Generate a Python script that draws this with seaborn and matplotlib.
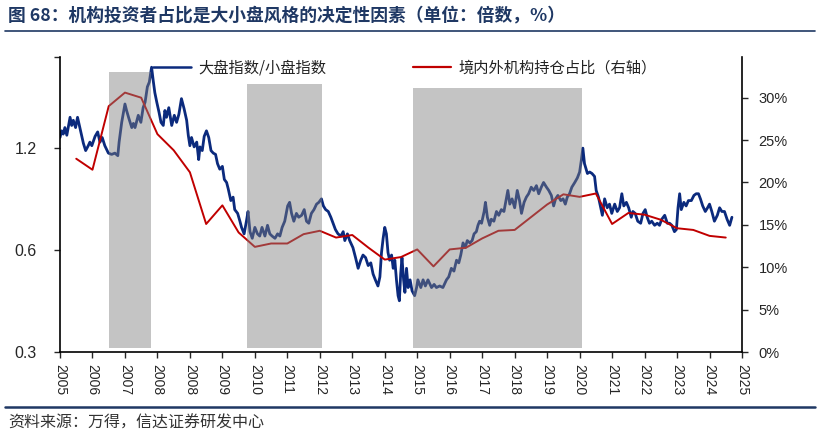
import matplotlib
matplotlib.use("Agg")
import matplotlib.pyplot as plt
import matplotlib.ticker as mticker
from matplotlib.lines import Line2D
from matplotlib.patches import Rectangle
import seaborn as sns
import pandas as pd

# ---------------- data ----------------
title = "图 68：机构投资者占比是大小盘风格的决定性因素（单位：倍数，%）"
source = "资料来源：万得，信达证券研发中心"
label_blue = "大盘指数/小盘指数"
label_red = "境内外机构持仓占比（右轴）"

x_tick_labels = ["2005", "2006", "2007", "2008", "2008", "2009", "2010", "2011",
                 "2012", "2013", "2014", "2015", "2016", "2017", "2018", "2019",
                 "2020", "2021", "2022", "2023", "2024", "2025"]

blue_x = [0.00, 0.05, 0.10, 0.15, 0.21, 0.31, 0.36, 0.41, 0.48, 0.54, 0.62, 0.72, 0.79, 0.87,
          0.92, 0.98, 1.08, 1.16, 1.23, 1.30, 1.38, 1.49, 1.59, 1.69, 1.78, 1.82, 1.90, 2.00,
          2.05, 2.12, 2.21, 2.26, 2.31, 2.41, 2.49, 2.56, 2.62, 2.69, 2.75, 2.82, 2.87, 2.92,
          2.98, 3.05, 3.11, 3.18, 3.23, 3.28, 3.35, 3.44, 3.52, 3.59, 3.66, 3.74, 3.82, 3.90,
          3.95, 4.00, 4.05, 4.13, 4.21, 4.27, 4.31, 4.38, 4.44, 4.51, 4.58, 4.65, 4.72, 4.79,
          4.85, 4.92, 5.00, 5.06, 5.13, 5.18, 5.26, 5.33, 5.38, 5.47, 5.54, 5.59, 5.67, 5.74,
          5.79, 5.85, 5.92, 6.00, 6.08, 6.15, 6.22, 6.31, 6.39, 6.46, 6.53, 6.62, 6.70, 6.77,
          6.84, 6.92, 7.01, 7.07, 7.13, 7.20, 7.28, 7.35, 7.44, 7.52, 7.59, 7.66, 7.74, 7.82,
          7.90, 7.97, 8.05, 8.11, 8.18, 8.26, 8.34, 8.41, 8.48, 8.56, 8.65, 8.72, 8.77, 8.85,
          8.92, 9.02, 9.10, 9.18, 9.26, 9.33, 9.41, 9.49, 9.57, 9.64, 9.71, 9.79, 9.85, 9.90,
          9.95, 10.00, 10.05, 10.10, 10.15, 10.21, 10.26, 10.31, 10.36, 10.41, 10.45, 10.49,
          10.53, 10.58, 10.62, 10.67, 10.72, 10.78, 10.84, 10.92, 10.98, 11.02, 11.11, 11.18,
          11.25, 11.33, 11.44, 11.52, 11.59, 11.69, 11.79, 11.90, 11.97, 12.05, 12.13, 12.21,
          12.28, 12.34, 12.41, 12.48, 12.54, 12.62, 12.69, 12.75, 12.82, 12.87, 12.92, 12.98,
          13.06, 13.10, 13.16, 13.23, 13.28, 13.36, 13.44, 13.51, 13.59, 13.67, 13.74, 13.79,
          13.85, 13.92, 14.00, 14.08, 14.15, 14.21, 14.29, 14.36, 14.43, 14.51, 14.59, 14.67,
          14.74, 14.82, 14.89, 14.98, 15.05, 15.13, 15.20, 15.26, 15.33, 15.42, 15.49, 15.56,
          15.62, 15.69, 15.76, 15.85, 15.93, 16.00, 16.05, 16.10, 16.15, 16.24, 16.31, 16.38,
          16.46, 16.51, 16.58, 16.65, 16.70, 16.77, 16.85, 16.92, 16.99, 17.08, 17.16, 17.23,
          17.30, 17.36, 17.44, 17.51, 17.59, 17.64, 17.71, 17.79, 17.88, 17.95, 18.02, 18.08,
          18.15, 18.22, 18.31, 18.39, 18.46, 18.53, 18.62, 18.70, 18.77, 18.84, 18.92, 18.98,
          19.03, 19.08, 19.13, 19.21, 19.28, 19.35, 19.44, 19.52, 19.59, 19.66, 19.72, 19.79,
          19.87, 19.94, 20.00, 20.07, 20.15, 20.24, 20.31, 20.38, 20.46, 20.54, 20.62, 20.69]

blue_y = [1.29, 1.35, 1.32, 1.38, 1.31, 1.48, 1.40, 1.45, 1.38, 1.48, 1.37, 1.24, 1.18, 1.22,
          1.25, 1.22, 1.30, 1.34, 1.25, 1.29, 1.22, 1.16, 1.15, 1.16, 1.14, 1.25, 1.43, 1.62,
          1.55, 1.47, 1.38, 1.42, 1.38, 1.50, 1.43, 1.58, 1.64, 1.82, 1.88, 2.08, 1.90, 1.75,
          1.64, 1.53, 1.43, 1.40, 1.55, 1.48, 1.58, 1.40, 1.50, 1.43, 1.51, 1.68, 1.57, 1.45,
          1.31, 1.22, 1.29, 1.21, 1.25, 1.11, 1.21, 1.18, 1.30, 1.35, 1.29, 1.18, 1.16, 1.15,
          1.08, 1.04, 1.06, 0.97, 0.95, 0.91, 0.84, 0.86, 0.79, 0.77, 0.73, 0.70, 0.67, 0.73,
          0.78, 0.68, 0.65, 0.70, 0.67, 0.66, 0.70, 0.66, 0.71, 0.67, 0.66, 0.65, 0.67, 0.66,
          0.70, 0.73, 0.81, 0.83, 0.77, 0.73, 0.77, 0.75, 0.76, 0.79, 0.73, 0.72, 0.77, 0.79,
          0.82, 0.83, 0.85, 0.81, 0.79, 0.78, 0.75, 0.72, 0.69, 0.67, 0.66, 0.68, 0.64, 0.67,
          0.64, 0.61, 0.57, 0.53, 0.56, 0.58, 0.57, 0.54, 0.55, 0.51, 0.49, 0.47, 0.50, 0.59,
          0.65, 0.70, 0.67, 0.59, 0.56, 0.58, 0.53, 0.56, 0.49, 0.44, 0.425, 0.51,
          0.57, 0.49, 0.45, 0.53, 0.465, 0.49, 0.455, 0.44, 0.465, 0.49, 0.465, 0.49,
          0.47, 0.49, 0.465, 0.475, 0.465, 0.47, 0.465, 0.49, 0.50, 0.53, 0.52, 0.56,
          0.55, 0.58, 0.63, 0.61, 0.64, 0.63, 0.64, 0.67, 0.68, 0.71, 0.73, 0.72,
          0.78, 0.83, 0.75, 0.71, 0.74, 0.73, 0.78, 0.76, 0.79, 0.78, 0.85, 0.90,
          0.82, 0.85, 0.80, 0.90, 0.84, 0.77, 0.83, 0.86, 0.88, 0.92, 0.90, 0.93,
          0.88, 0.92, 0.95, 0.92, 0.90, 0.87, 0.81, 0.85, 0.87, 0.84, 0.85, 0.82,
          0.86, 0.88, 0.92, 0.95, 0.98, 1.02, 1.10, 1.20, 1.08, 1.01, 1.02, 1.01,
          0.99, 0.90, 0.86, 0.80, 0.76, 0.85, 0.80, 0.82, 0.77, 0.82, 0.78, 0.80,
          0.88, 0.81, 0.83, 0.80, 0.75, 0.78, 0.77, 0.73, 0.72, 0.77, 0.79, 0.75,
          0.72, 0.73, 0.71, 0.72, 0.71, 0.74, 0.76, 0.72, 0.72, 0.71, 0.68, 0.69,
          0.80, 0.88, 0.79, 0.83, 0.81, 0.84, 0.84, 0.87, 0.88, 0.88, 0.85, 0.81,
          0.78, 0.80, 0.82, 0.78, 0.73, 0.76, 0.80, 0.78, 0.78, 0.74, 0.71, 0.75]

red_x = [0.5, 1.0, 1.5, 2.0, 2.5, 3.0, 3.5, 4.0, 4.5, 5.0, 5.5, 6.0, 6.5, 7.0, 7.5, 8.0,
         8.5, 9.0, 9.5, 10.0, 10.5, 11.0, 11.5, 12.0, 12.5, 13.0, 13.5, 14.0, 14.5, 15.0,
         15.5, 16.0, 16.5, 17.0, 17.5, 18.0, 18.5, 19.0, 19.5, 20.0, 20.5]
red_pct = [22.8, 21.5, 29.0, 30.6, 30.0, 25.7, 23.8, 21.2, 15.1, 17.3, 14.1, 12.4, 12.8,
           12.8, 13.9, 14.3, 13.5, 13.8, 12.3, 10.9, 11.2, 12.1, 10.1, 12.1, 12.3, 13.4,
           14.3, 14.4, 15.9, 17.4, 18.6, 18.3, 18.7, 15.1, 16.4, 16.2, 15.6, 14.6, 14.4,
           13.7, 13.5]

# shaded periods (start, end, top in % on right axis)
shade_start = [1.51, 5.75, 10.86]
shade_end = [2.80, 8.06, 16.06]
shade_top = [33.0, 31.6, 31.1]
shade_bottom = 0.5

# ---------------- style ----------------
sns.set_theme(style="white")
plt.rcParams["font.family"] = ["Liberation Sans", "Noto Sans CJK SC", "DejaVu Sans"]
CJK = ["Noto Sans CJK SC", "DejaVu Sans"]
BLUE = "#0b2a7d"
RED = "#c00000"
NAVY = "#1f3864"

W, H = 820, 437
fig = plt.figure(figsize=(W / 100, H / 100), dpi=100)
L, R, T, B = 60, 742, 57, 352
ax = fig.add_axes([L / W, 1 - B / H, (R - L) / W, (B - T) / H])
ax2 = ax.twinx()

df_blue = pd.DataFrame({"x": blue_x, "y": blue_y})
df_red = pd.DataFrame({"x": red_x, "y": [v / 100 for v in red_pct]})

sns.lineplot(data=df_blue, x="x", y="y", ax=ax, color=BLUE, lw=2.0, legend=False)
sns.lineplot(data=df_red, x="x", y="y", ax=ax2, color=RED, lw=1.4, legend=False)

ax.set_yscale("log", base=2)
ax.set_ylim(0.3, 2.23)
ax.set_xlim(0, 21)
ax2.set_ylim(0, 0.348)

for s, e, t in zip(shade_start, shade_end, shade_top):
    ax2.add_patch(Rectangle((s, shade_bottom / 100), e - s, (t - shade_bottom) / 100,
                            facecolor="#7f7f7f", alpha=0.46, edgecolor="none", zorder=5))

ax.set_xticks(range(len(x_tick_labels)))
ax.set_xticklabels(x_tick_labels, rotation=-90, fontsize=10)
ax.set_yticks([0.3, 0.6, 1.2, 2.23])
ax.set_yticklabels(["0.3", "0.6", "1.2", ""], fontsize=11.5)
ax.yaxis.set_minor_locator(mticker.NullLocator())
ax2.set_yticks([0, 0.05, 0.10, 0.15, 0.20, 0.25, 0.30])
ax2.yaxis.set_major_formatter(mticker.PercentFormatter(1.0, decimals=0))
ax2.tick_params(axis="y", labelsize=10.5, length=4, width=1, pad=8, direction="out", right=True)
ax.tick_params(axis="y", length=4, width=1, pad=13, direction="out", left=True)
ax.tick_params(axis="x", length=4, width=1, pad=5, direction="out", bottom=True)
ax.set_xlabel("")
ax.set_ylabel("")
ax2.set_ylabel("")

for a in (ax, ax2):
    a.spines["top"].set_visible(False)
    for sp in ("left", "right", "bottom"):
        a.spines[sp].set_color("black")
        a.spines[sp].set_linewidth(1.2)
    a.grid(False)
ax.spines["right"].set_visible(False)
ax2.spines["left"].set_visible(False)
ax2.spines["bottom"].set_visible(False)

# legends
h1 = Line2D([], [], color=BLUE, lw=1.8)
h2 = Line2D([], [], color=RED, lw=1.6)
leg_kw = dict(frameon=False, loc="center left", borderpad=0, borderaxespad=0,
              handlelength=2.5, handletextpad=0.45, prop={"family": CJK, "size": 11})
leg1 = fig.legend([h1], [label_blue], bbox_to_anchor=(153 / W, 1 - 68 / H), **leg_kw)
leg2 = fig.legend([h2], [label_red], bbox_to_anchor=(413 / W, 1 - 68 / H), **leg_kw)
for lg in (leg1, leg2):
    for t in lg.get_texts():
        t.set_color("#222222")

# title, rules, source
fig.text(8 / W, 1 - 15 / H, title, family=CJK, fontsize=12.8, fontweight="bold",
         color=NAVY, va="center", ha="left")
fig.add_artist(Line2D([5 / W, 815 / W], [1 - 31 / H, 1 - 31 / H], color=NAVY, lw=1.2))
fig.add_artist(Line2D([5 / W, 815 / W], [1 - 407 / H, 1 - 407 / H], color=NAVY, lw=1.8))
fig.text(8 / W, 1 - 423 / H, source, family=CJK, fontsize=11.5, color="#333333",
         va="center", ha="left", style="italic")

fig.savefig("out.png", dpi=100)
